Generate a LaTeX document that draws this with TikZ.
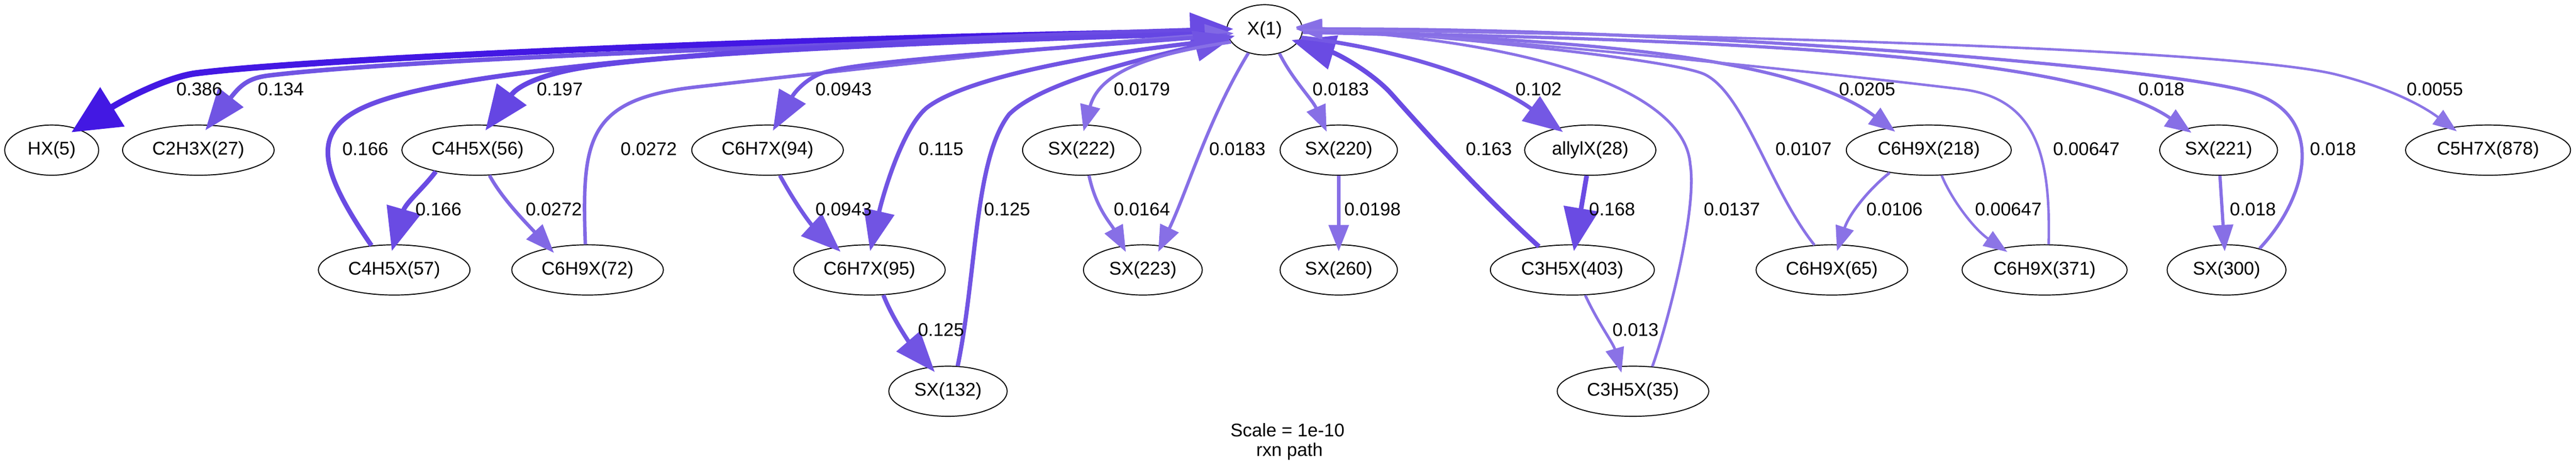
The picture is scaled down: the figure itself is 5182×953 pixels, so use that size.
\documentclass[tikz,border=0pt]{standalone}
\usepackage{fontspec}
\setmainfont{Liberation Sans}
\usetikzlibrary{shapes.geometric,arrows.meta}
\definecolor{cA}{HTML}{4318E3}
\definecolor{cBb}{HTML}{6546E3}
\definecolor{cB}{HTML}{6A4BE3}
\definecolor{cBc}{HTML}{7054E3}
\definecolor{cCb}{HTML}{7154E3}
\definecolor{cC}{HTML}{7458E4}
\definecolor{cD}{HTML}{8168E5}
\definecolor{cE}{HTML}{876FE6}
\definecolor{cEb}{HTML}{8A72E6}
\definecolor{cF}{HTML}{8C75E6}
\tikzset{
  sp/.style={ellipse, draw=black, line width=2bp, minimum height=101bp, inner sep=0pt,
    font=\fontsize{37bp}{44bp}\selectfont},
  lbl/.style={inner sep=0pt, font=\fontsize{37bp}{44bp}\selectfont},
  flux/.style n args={4}{draw=#1, line width=#2, shorten >=-14bp,
    -{Triangle[length=#3, width=#4]}},
  % flux classes: colour, line width, arrow length, arrow width
  fA/.style={flux={cA}{12.5bp}{97bp}{90bp}},
  fBb/.style={flux={cBb}{10bp}{90bp}{72bp}},
  fB/.style={flux={cB}{9.5bp}{87bp}{69bp}},
  fBc/.style={flux={cBc}{9bp}{84bp}{62bp}},
  fCb/.style={flux={cCb}{8.5bp}{82bp}{61bp}},
  fC/.style={flux={cC}{8bp}{80bp}{60bp}},
  fD/.style={flux={cD}{7bp}{58bp}{43bp}},
  fE/.style={flux={cE}{6.5bp}{53bp}{40bp}},
  fEb/.style={flux={cEb}{5.5bp}{50bp}{37bp}},
  fF/.style={flux={cF}{5bp}{48bp}{35bp}}
}
\begin{document}
\begin{tikzpicture}[x=1bp,y=-1bp]
\useasboundingbox (0,0) rectangle (5182,953);
% nodes
\node[sp, minimum width=152bp] (X1) at (2544,60) {X(1)};
\node[sp, minimum width=189bp] (HX5) at (104,302) {HX(5)};
\node[sp, minimum width=305bp] (C2H3X27) at (399,302) {C2H3X(27)};
\node[sp, minimum width=305bp] (C4H5X56) at (961,302) {C4H5X(56)};
\node[sp, minimum width=305bp] (C6H7X94) at (1544,302) {C6H7X(94)};
\node[sp, minimum width=238bp] (SX222) at (2176,302) {SX(222)};
\node[sp, minimum width=236bp] (SX220) at (2693,302) {SX(220)};
\node[sp, minimum width=264bp] (allylX28) at (3199,302) {allylX(28)};
\node[sp, minimum width=332bp] (C6H9X218) at (3880,302) {C6H9X(218)};
\node[sp, minimum width=237bp] (SX221) at (4463,302) {SX(221)};
\node[sp, minimum width=332bp] (C5H7X878) at (5005,302) {C5H7X(878)};
\node[sp, minimum width=305bp] (C4H5X57) at (793,543) {C4H5X(57)};
\node[sp, minimum width=305bp] (C6H9X72) at (1182,543) {C6H9X(72)};
\node[sp, minimum width=305bp] (C6H7X95) at (1749,543) {C6H7X(95)};
\node[sp, minimum width=239bp] (SX223) at (2299,543) {SX(223)};
\node[sp, minimum width=236bp] (SX260) at (2693,543) {SX(260)};
\node[sp, minimum width=330bp] (C3H5X403) at (3163,543) {C3H5X(403)};
\node[sp, minimum width=305bp] (C6H9X65) at (3685,543) {C6H9X(65)};
\node[sp, minimum width=332bp] (C6H9X371) at (4113,543) {C6H9X(371)};
\node[sp, minimum width=239bp] (SX300) at (4479,543) {SX(300)};
\node[sp, minimum width=238bp] (SX132) at (1907,787) {SX(132)};
\node[sp, minimum width=305bp] (C3H5X35) at (3285,787) {C3H5X(35)};
% edges
\draw[fA] (X1.182) .. controls (1500,78) and (600,120) .. (390,148) .. controls (330,158) and (250,200) .. (HX5.40);
\draw[fBc] (X1.184) .. controls (1600,90) and (800,120) .. (540,152) .. controls (500,157) and (484,171) .. (C2H3X27.66);
\draw[fB] (C4H5X57.133) .. controls (600,280) and (630,220) .. (900,170) .. controls (1224,110) and (1900,75) .. (X1.179);
\draw[fBb] (X1.185) .. controls (1800,85) and (1300,110) .. (1150,140) .. controls (1090,152) and (1043,171) .. (C4H5X56.65);
\draw[fB] (C4H5X56.207) .. controls (855,375) and (816,408) .. (C4H5X57.91);
\draw[fD] (C4H5X56.295) .. controls (1010,400) and (1060,450) .. (C6H9X72.150);
\draw[fD] (C6H9X72.95) .. controls (1170,280) and (1180,200) .. (1400,175) .. controls (1800,130) and (2200,85) .. (X1.186);
\draw[fC] (X1.188) .. controls (2100,100) and (1750,120) .. (1660,145) .. controls (1625,155) and (1600,183) .. (C6H7X94.71);
\draw[fC] (C6H7X94.296) .. controls (1600,410) and (1630,450) .. (C6H7X95.146);
\draw[fCb] (X1.195) .. controls (2250,100) and (1950,150) .. (1864,217) .. controls (1815,258) and (1776,393) .. (C6H7X95.85);
\draw[fCb] (C6H7X95.299) .. controls (1795,640) and (1830,690) .. (SX132.126);
\draw[fCb] (SX132.69) .. controls (1965,550) and (1960,320) .. (2030,230) .. controls (2100,160) and (2330,112) .. (X1.192);
\draw[fE] (X1.200) .. controls (2300,110) and (2210,150) .. (SX222.82);
\draw[fE] (SX222.286) .. controls (2205,420) and (2235,450) .. (SX223.130);
\draw[fE] (X1.235) .. controls (2430,240) and (2390,380) .. (SX223.53);
\draw[fE] (X1.302) .. controls (2600,160) and (2640,200) .. (SX220.121);
\draw[fE] (SX220.270) -- (SX260.90);
\draw[fB] (C3H5X403.145) .. controls (2990,400) and (2880,280) .. (2800,190) .. controls (2760,145) and (2690,108) .. (X1.340);
\draw[fC] (X1.348) .. controls (2800,95) and (3000,160) .. (allylX28.146);
\draw[fB] (allylX28.262) -- (C3H5X403.84);
\draw[fEb] (C3H5X403.297) .. controls (3215,650) and (3245,690) .. (C3H5X35.118);
\draw[fEb] (C3H5X35.52) .. controls (3355,650) and (3415,420) .. (3400,330) .. controls (3390,200) and (3150,90) .. (X1.2);
\draw[fEb] (C6H9X65.125) .. controls (3560,380) and (3510,190) .. (3430,150) .. controls (3370,120) and (2900,72) .. (X1.4);
\draw[fE] (X1.356) .. controls (3200,75) and (3620,120) .. (C6H9X218.150);
\draw[fEb] (C6H9X218.210) .. controls (3760,380) and (3720,430) .. (C6H9X65.74);
\draw[fF] (C6H9X218.297) .. controls (3925,400) and (3970,460) .. (C6H9X371.153);
\draw[fF] (C6H9X371.81) .. controls (4125,320) and (4100,200) .. (3950,180) .. controls (3750,155) and (3000,75) .. (X1.3);
\draw[fE] (X1.357) .. controls (3500,80) and (4180,110) .. (SX221.147);
\draw[fE] (SX221.273) -- (SX300.95);
\draw[fE] (SX300.33) .. controls (4640,400) and (4680,240) .. (4540,190) .. controls (4420,140) and (3400,55) .. (X1.1);
\draw[fF] (X1.0) .. controls (3500,70) and (4500,100) .. (4700,150) .. controls (4800,175) and (4870,210) .. (C5H7X878.148);
% edge labels
\node[lbl] (l01) at (401,180) {0.386};
\node[lbl] (l02) at (565,180) {0.134};
\node[lbl] (l03) at (1126,180) {0.197};
\node[lbl] (l04) at (735,300) {0.166};
\node[lbl] (l05) at (882,421) {0.166};
\node[lbl] (l06) at (1114,421) {0.0272};
\node[lbl] (l07) at (1305,300) {0.0272};
\node[lbl] (l08) at (1697,180) {0.0943};
\node[lbl] (l09) at (1893,300) {0.115};
\node[lbl] (l10) at (2297,180) {0.0179};
\node[lbl] (l11) at (2489,300) {0.0183};
\node[lbl] (l12) at (1697,421) {0.0943};
\node[lbl] (l13) at (2026,421) {0.125};
\node[lbl] (l14) at (2297,421) {0.0164};
\node[lbl] (l15) at (1893,663) {0.125};
\node[lbl] (l16) at (2697,180) {0.0183};
\node[lbl] (l17) at (3095,180) {0.102};
\node[lbl] (l18) at (2995,300) {0.163};
\node[lbl] (l19) at (3628,300) {0.0107};
\node[lbl] (l20) at (3756,180) {0.0205};
\node[lbl] (l21) at (2761,421) {0.0198};
\node[lbl] (l22) at (3243,421) {0.168};
\node[lbl] (l23) at (3484,421) {0.0137};
\node[lbl] (l24) at (3811,421) {0.0106};
\node[lbl] (l25) at (3290,663) {0.013};
\node[lbl] (l26) at (4348,180) {0.018};
\node[lbl] (l27) at (4898,180) {0.0055};
\node[lbl] (l28) at (4197,300) {0.00647};
\node[lbl] (l29) at (4693,300) {0.018};
\node[lbl] (l30) at (4040,421) {0.00647};
\node[lbl] (l31) at (4532,421) {0.018};
% caption
\node[lbl] (scale) at (2590,865) {Scale = 1e-10};
\node[lbl] (rxn) at (2594,908) {rxn path};
\end{tikzpicture}
\end{document}
